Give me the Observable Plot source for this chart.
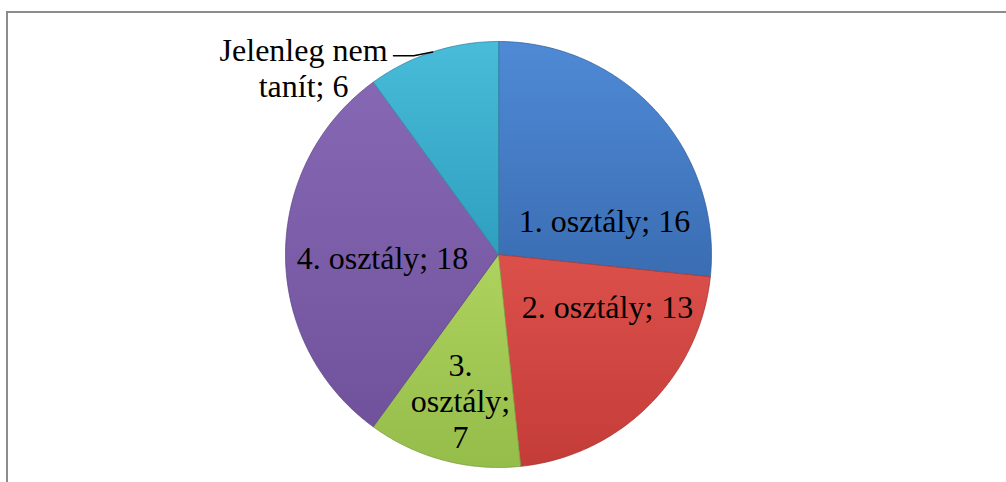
<!DOCTYPE html>
<html>
<head>
<meta charset="utf-8">
<script src="https://cdn.jsdelivr.net/npm/d3@7"></script>
<script src="https://cdn.jsdelivr.net/npm/@observablehq/plot@0.6"></script>
<style>
  html, body { margin: 0; padding: 0; background: #fff; }
  #wrap { position: relative; width: 1006px; height: 482px; overflow: hidden; }
  #frame { position: absolute; left: 6px; top: 11px; width: 1010px; height: 490px; border: 2px solid #8c8c8c; box-sizing: border-box; }
  #chart { position: absolute; left: 0; top: 0; }
</style>
</head>
<body>
<div id="wrap"><div id="frame"></div><div id="chart"></div></div>
<script>
// ---- data ----
const categories = ["1. osztály", "2. osztály", "3. osztály", "4. osztály", "Jelenleg nem tanít"];
const values = [16, 13, 7, 18, 6];

// ---- styles / layout (not data) ----
const colorsTop    = ["#4f8ad6", "#dc504b", "#aed25e", "#8667b4", "#48bcd9"];
const colorsBottom = ["#3a6db2", "#c43c38", "#95bd4a", "#70529c", "#2f9fbf"];
const strokeColors = ["#2c5a96", "#9e2f2c", "#76963a", "#5a4280", "#24809a"];
// label placement: angle (deg clockwise from top) and radius (fraction of pie radius)
const labelAngle  = [72, 115.5, 194.6, 268.5, 313.8];
const labelRadius = [0.523, 0.567, 0.708, 0.545, 1.268];
const wordsPerLine = [0, 0, 1, 0, 2];

// ---- geometry via d3.pie ----
const arcs = d3.pie().sort(null).value(d => d)(values);
const slicePts = [];
arcs.forEach((a, i) => {
  const n = Math.max(4, Math.ceil((a.endAngle - a.startAngle) / 0.01));
  slicePts.push({i, x: 0, y: 0});
  for (let k = 0; k <= n; k++) {
    const t = a.startAngle + (a.endAngle - a.startAngle) * k / n;
    slicePts.push({i, x: Math.sin(t), y: Math.cos(t)});
  }
});

const labels = categories.map((c, i) => {
  let txt = `${c}; ${values[i]}`;
  if (wordsPerLine[i] > 0) {
    const w = txt.split(" ");
    const lines = [];
    for (let k = 0; k < w.length; k += wordsPerLine[i]) lines.push(w.slice(k, k + wordsPerLine[i]).join(" "));
    txt = lines.join("\n");
  }
  const t = labelAngle[i] * Math.PI / 180;
  return {i, text: txt, x: labelRadius[i] * Math.sin(t), y: labelRadius[i] * Math.cos(t)};
});

// leader line for the outside label (last slice)
const last = arcs[arcs.length - 1];
const mid = (last.startAngle + last.endAngle) / 2;
const ex = Math.sin(mid), ey = Math.cos(mid);
const leader = [
  {x: ex - 0.184, y: ey - 0.018},
  {x: ex - 0.089, y: ey - 0.018},
  {x: ex, y: ey}
];

const marks = arcs.map((a, i) =>
  Plot.line(slicePts.filter(p => p.i === i), {
    x: "x", y: "y", curve: "linear-closed",
    fill: `url(#grad${i})`, stroke: strokeColors[i], strokeWidth: 1, strokeOpacity: 0.7
  })
);
marks.push(Plot.line(leader, {x: "x", y: "y", stroke: "#000", strokeWidth: 1.5}));
marks.push(Plot.text(labels, {
  x: "x", y: "y", text: "text", fill: "#000",
  fontFamily: "'Liberation Serif', 'Times New Roman', serif", fontSize: 32,
  lineHeight: 1.13, textAnchor: "middle", lineAnchor: "middle"
}));

const svg = Plot.plot({
  width: 1006, height: 482,
  margin: 0,
  x: {domain: [-1, 1], range: [285, 711], axis: null},
  y: {domain: [-1, 1], range: [467, 41], axis: null},
  style: {background: "transparent", overflow: "visible"},
  marks
});

const defs = d3.select(svg).insert("defs", ":first-child");
colorsTop.forEach((c, i) => {
  const g = defs.append("linearGradient").attr("id", `grad${i}`)
    .attr("x1", 0).attr("y1", 0).attr("x2", 0).attr("y2", 1);
  g.append("stop").attr("offset", "0%").attr("stop-color", c);
  g.append("stop").attr("offset", "100%").attr("stop-color", colorsBottom[i]);
});

document.getElementById("chart").appendChild(svg);
</script>
</body>
</html>
